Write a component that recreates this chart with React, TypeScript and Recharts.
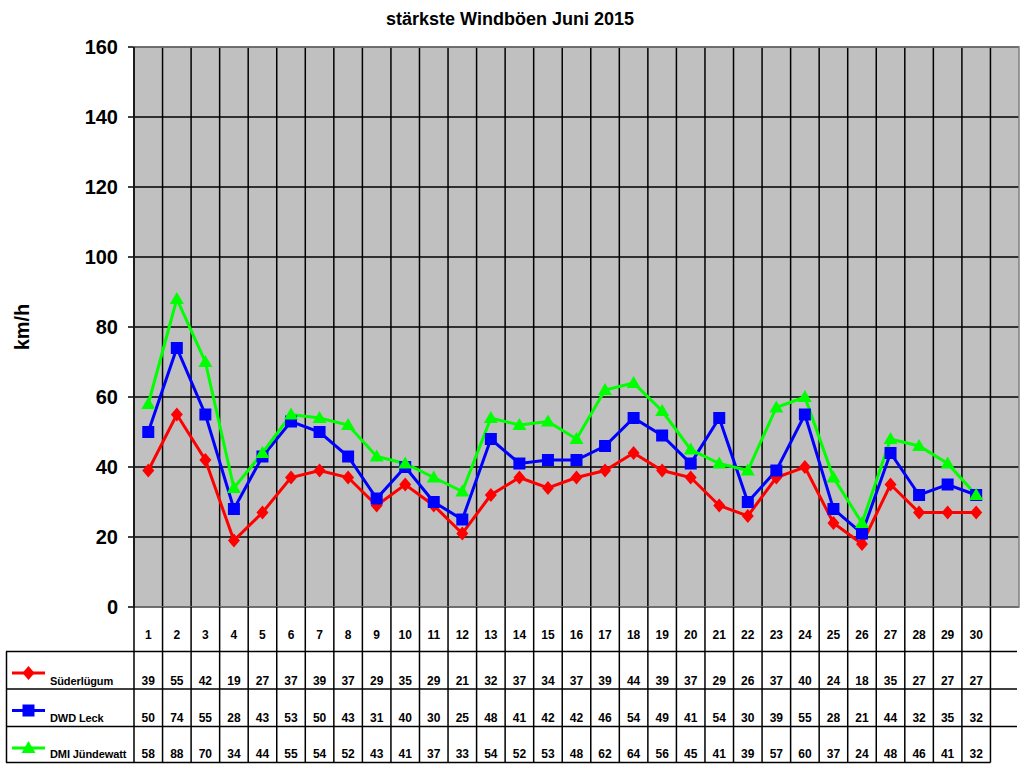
import React from 'react';
import { ComposedChart, Line, XAxis, YAxis, CartesianGrid, ReferenceLine } from 'recharts';

// Daily peak gusts, June 2015 (km/h)
const days = [1, 2, 3, 4, 5, 6, 7, 8, 9, 10, 11, 12, 13, 14, 15, 16, 17, 18, 19, 20, 21, 22, 23, 24, 25, 26, 27, 28, 29, 30];
const suederluegum = [39, 55, 42, 19, 27, 37, 39, 37, 29, 35, 29, 21, 32, 37, 34, 37, 39, 44, 39, 37, 29, 26, 37, 40, 24, 18, 35, 27, 27, 27];
const dwdLeck = [50, 74, 55, 28, 43, 53, 50, 43, 31, 40, 30, 25, 48, 41, 42, 42, 46, 54, 49, 41, 54, 30, 39, 55, 28, 21, 44, 32, 35, 32];
const dmiJuendewatt = [58, 88, 70, 34, 44, 55, 54, 52, 43, 41, 37, 33, 54, 52, 53, 48, 62, 64, 56, 45, 41, 39, 57, 60, 37, 24, 48, 46, 41, 32];
const yTicks = [0, 20, 40, 60, 80, 100, 120, 140, 160];
const columnCount = 31;

const series = [
  { key: 'sued', name: 'Süderlügum', color: '#FF0000', shape: 'diamond', values: suederluegum },
  { key: 'dwd', name: 'DWD Leck', color: '#0000FF', shape: 'square', values: dwdLeck },
  { key: 'dmi', name: 'DMI Jündewatt', color: '#00FF00', shape: 'triangle', values: dmiJuendewatt },
];

const data = days.map((d, i) => ({
  day: d,
  sued: suederluegum[i],
  dwd: dwdLeck[i],
  dmi: dmiJuendewatt[i],
}));

const boundaries = Array.from({ length: columnCount - 1 }, (_, i) => i + 1.5);

// layout
const W = 1024;
const H = 768;
const plotLeft = 134;
const plotRight = 1019;
const plotTop = 47;
const plotBottom = 607;
const colW = (plotRight - plotLeft) / columnCount;
const rowLines = [651.5, 689, 726.5, 762.5];
const font = '"Liberation Sans", Arial, sans-serif';

const Marker = ({ cx, cy, shape, color }: { cx: number; cy: number; shape: string; color: string }) => {
  if (cx == null || cy == null) return null;
  if (shape === 'diamond') {
    return <polygon points={`${cx},${cy - 7} ${cx + 6},${cy} ${cx},${cy + 7} ${cx - 6},${cy}`} fill={color} />;
  }
  if (shape === 'square') {
    return <rect x={cx - 6} y={cy - 6} width={12} height={12} fill={color} />;
  }
  return <polygon points={`${cx},${cy - 7} ${cx + 7},${cy + 5} ${cx - 7},${cy + 5}`} fill={color} />;
};

const Table = () => {
  const cols = Array.from({ length: columnCount + 1 }, (_, i) => plotLeft + i * colW);
  return (
    <svg width={W} height={H} style={{ position: 'absolute', left: 0, top: 0, pointerEvents: 'none' }}>
      {/* plot frame */}
      <rect x={plotLeft} y={plotTop} width={plotRight - plotLeft} height={plotBottom - plotTop} fill="none" stroke="#808080" strokeWidth={1.5} />
      <line x1={plotLeft} y1={plotTop} x2={plotLeft} y2={plotBottom} stroke="#000" strokeWidth={1.5} />
      {/* table grid */}
      {cols.slice(0, columnCount).map((x, i) => (
        <line key={`v${i}`} x1={x} y1={plotBottom} x2={x} y2={rowLines[3]} stroke="#000" strokeWidth={1.5} />
      ))}
      <line x1={6.5} y1={rowLines[0]} x2={6.5} y2={rowLines[3]} stroke="#000" strokeWidth={1.5} />
      {rowLines.map((y, i) => (
        <line key={`h${i}`} x1={6} y1={y} x2={i === 3 ? cols[columnCount - 1] : plotRight - 2} y2={y} stroke="#000" strokeWidth={1.5} />
      ))}
      {/* day numbers */}
      {days.map((d, i) => (
        <text key={`d${d}`} x={plotLeft + (i + 0.5) * colW} y={639} textAnchor="middle" fontFamily={font} fontWeight="bold" fontSize={12}>
          {d}
        </text>
      ))}
      {series.map((s, r) => {
        const base = rowLines[r + 1] - 4.5;
        const lineY = rowLines[r] + 21.5;
        return (
          <g key={s.key}>
            <line x1={12} y1={lineY} x2={45} y2={lineY} stroke={s.color} strokeWidth={3} />
            <Marker cx={28.5} cy={lineY} shape={s.shape} color={s.color} />
            <text x={50} y={base} fontFamily={font} fontWeight="bold" fontSize={11} letterSpacing={-0.1}>
              {s.name}
            </text>
            {s.values.map((v, i) => (
              <text key={i} x={plotLeft + (i + 0.5) * colW} y={base} textAnchor="middle" fontFamily={font} fontWeight="bold" fontSize={12}>
                {v}
              </text>
            ))}
          </g>
        );
      })}
    </svg>
  );
};

export default function App() {
  return (
    <div style={{ position: 'absolute', left: 0, top: 0, width: W, height: H, background: '#fff', fontFamily: font }}>
      <div style={{ position: 'absolute', left: 0, top: 9, width: W - 4, textAlign: 'center', fontWeight: 'bold', fontSize: 18 }}>
        stärkste Windböen Juni 2015
      </div>
      <div
        style={{
          position: 'absolute',
          left: 22,
          top: 327,
          transform: 'translate(-50%, -50%) rotate(-90deg)',
          fontWeight: 'bold',
          fontSize: 20,
          whiteSpace: 'nowrap',
        }}
      >
        km/h
      </div>
      <ComposedChart
        width={W}
        height={H}
        data={data}
        margin={{ top: plotTop, right: W - plotRight, bottom: H - plotBottom, left: 0 }}
        style={{ position: 'absolute', left: 0, top: 0 }}
      >
        <CartesianGrid vertical={false} stroke="#000" strokeWidth={1.5} fill="#C0C0C0" fillOpacity={1} horizontalValues={yTicks} />
        {boundaries.map((b) => (
          <ReferenceLine key={b} x={b} stroke="#000" strokeWidth={1.5} />
        ))}
        <XAxis dataKey="day" type="number" domain={[0.5, columnCount + 0.5]} hide />
        <YAxis
          domain={[0, 160]}
          ticks={yTicks}
          width={plotLeft}
          axisLine={{ stroke: '#000', strokeWidth: 1.5 }}
          tickLine={{ stroke: '#000', strokeWidth: 1.5 }}
          tickSize={6}
          tickMargin={10}
          tick={{ fill: '#000', fontSize: 20, fontWeight: 'bold', fontFamily: font }}
          interval={0}
        />
        {series.map((s) => (
          <Line
            key={s.key}
            dataKey={s.key}
            name={s.name}
            stroke={s.color}
            strokeWidth={3}
            isAnimationActive={false}
            dot={(p: any) => <Marker key={`${s.key}-${p.index}`} cx={p.cx} cy={p.cy} shape={s.shape} color={s.color} />}
            activeDot={false}
          />
        ))}
      </ComposedChart>
      <Table />
    </div>
  );
}
